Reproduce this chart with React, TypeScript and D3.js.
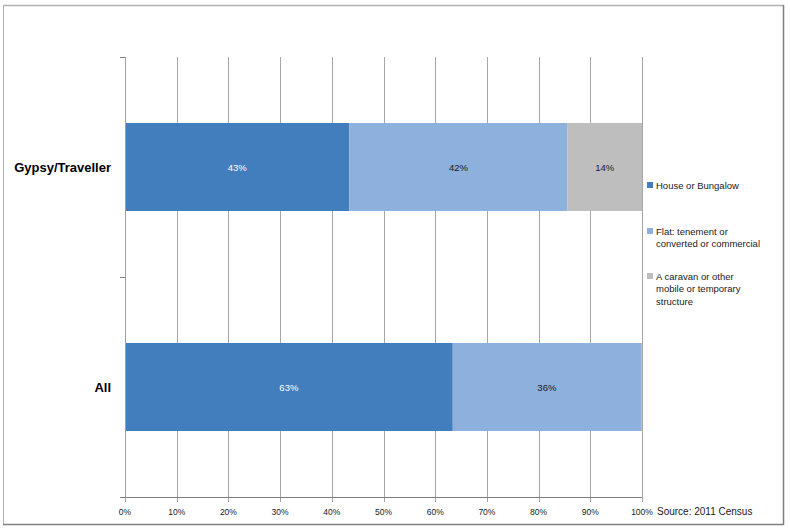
import React from 'react'
import * as d3 from 'd3'

// Housing type by ethnic group, percent of households
const categories = ['Gypsy/Traveller', 'All']
const seriesNames = ['House or Bungalow', 'Flat: tenement or converted or commercial', 'A caravan or other mobile or temporary structure']
const houseValues = [43.4, 63.4]
const flatValues = [42.2, 36.4]
const caravanValues = [14.4, 0.2]
const xTicks = [0, 10, 20, 30, 40, 50, 60, 70, 80, 90, 100]
const legendLines = [
  ['House or Bungalow'],
  ['Flat: tenement or', 'converted or commercial'],
  ['A caravan or other', 'mobile or temporary', 'structure'],
]
const sourceNote = 'Source: 2011 Census'

const W = 790
const H = 531
const colors = ['#427dbd', '#8db0dd', '#bebebe']
const labelColors = ['#ffffff', '#1a1a1a', '#1a1a1a']
const smallFont = '"Liberation Sans", Arial, sans-serif'

export default function App() {
  const plot = { left: 125, right: 642, top: 57, bottom: 497 }

  const x = d3.scaleLinear().domain([0, 100]).range([plot.left, plot.right])
  const y = d3.scaleBand<string>()
    .domain(categories)
    .range([plot.top, plot.bottom])
    .paddingInner(0.6)
    .paddingOuter(0.3)

  const rows = categories.map((c, i) => ({
    category: c,
    house: houseValues[i],
    flat: flatValues[i],
    caravan: caravanValues[i],
  }))
  const stack = d3.stack<typeof rows[number]>().keys(['house', 'flat', 'caravan'])(rows)

  // category tick positions on the left axis (band boundaries)
  const step = y.step()
  const catTicks = [plot.top, plot.top + step, plot.bottom]

  const legendStart = [185, 231, 276]

  return (
    <div style={{ position: 'absolute', left: 0, top: 0 }}>
      <svg width={W} height={H} style={{ display: 'block', background: '#fff' }}>
        {/* chart frame */}
        <line x1={3} y1={5.5} x2={784} y2={5.5} stroke="#b0b0b0" strokeWidth={1.5} />
        <line x1={3.5} y1={5} x2={3.5} y2={525} stroke="#b0b0b0" strokeWidth={1} />
        <line x1={783.5} y1={5} x2={783.5} y2={525} stroke="#808080" strokeWidth={1.5} />
        <line x1={3} y1={524.5} x2={784} y2={524.5} stroke="#808080" strokeWidth={1.5} />

        {/* vertical gridlines */}
        {xTicks.map(t => (
          <line key={'g' + t} x1={Math.round(x(t)) + 0.5} x2={Math.round(x(t)) + 0.5}
            y1={plot.top} y2={plot.bottom + 5} stroke="#a6a6a6" strokeWidth={1} />
        ))}

        {/* bars */}
        {stack.map((layer, si) => (
          <g key={layer.key}>
            {layer.map((d, ci) => {
              const x0 = x(d[0])
              const x1 = x(d[1])
              const yy = y(categories[ci])!
              const v = d[1] - d[0]
              return (
                <g key={ci}>
                  <rect x={x0} y={yy} width={x1 - x0} height={y.bandwidth()} fill={colors[si]} />
                  {v >= 1 && (
                    <text x={(x0 + x1) / 2} y={yy + y.bandwidth() / 2} textAnchor="middle"
                      dominantBaseline="central" fontFamily={smallFont} fontSize={9.5}
                      fill={labelColors[si]}>
                      {d3.format('.0f')(v)}%
                    </text>
                  )}
                </g>
              )
            })}
          </g>
        ))}

        {/* left axis */}
        <line x1={plot.left + 0.5} x2={plot.left + 0.5} y1={plot.top} y2={plot.bottom + 5} stroke="#a0a0a0" />
        {catTicks.map(t => (
          <line key={'ct' + t} x1={plot.left - 5} x2={plot.left} y1={t + 0.5} y2={t + 0.5} stroke="#808080" />
        ))}
        {categories.map(c => (
          <text key={c} x={111} y={y(c)! + y.bandwidth() / 2} textAnchor="end" dominantBaseline="central"
            fontFamily='"Liberation Sans", Arial, sans-serif' fontWeight="bold" fontSize={13} fill="#000">
            {c}
          </text>
        ))}

        {/* bottom axis */}
        <line x1={plot.left - 5} x2={plot.right} y1={plot.bottom + 0.5} y2={plot.bottom + 0.5} stroke="#808080" />
        {xTicks.map(t => (
          <text key={'t' + t} x={x(t)} y={512} textAnchor="middle" dominantBaseline="central"
            fontFamily={smallFont} fontSize={8.5} fill="#1a1a1a">
            {t}%
          </text>
        ))}

        {/* legend */}
        {seriesNames.map((s, i) => (
          <g key={s}>
            <rect x={647} y={legendStart[i] - 3} width={6} height={6} fill={colors[i]} />
            {legendLines[i].map((ln, j) => (
              <text key={j} x={656} y={legendStart[i] + j * 12.8} dominantBaseline="central"
                fontFamily={smallFont} fontSize={9.5} fill="#1a1a1a">
                {ln}
              </text>
            ))}
          </g>
        ))}

        <text x={657} y={511} dominantBaseline="central" fontFamily={smallFont} fontSize={10} fill="#1a1a1a">
          {sourceNote}
        </text>
      </svg>
    </div>
  )
}
